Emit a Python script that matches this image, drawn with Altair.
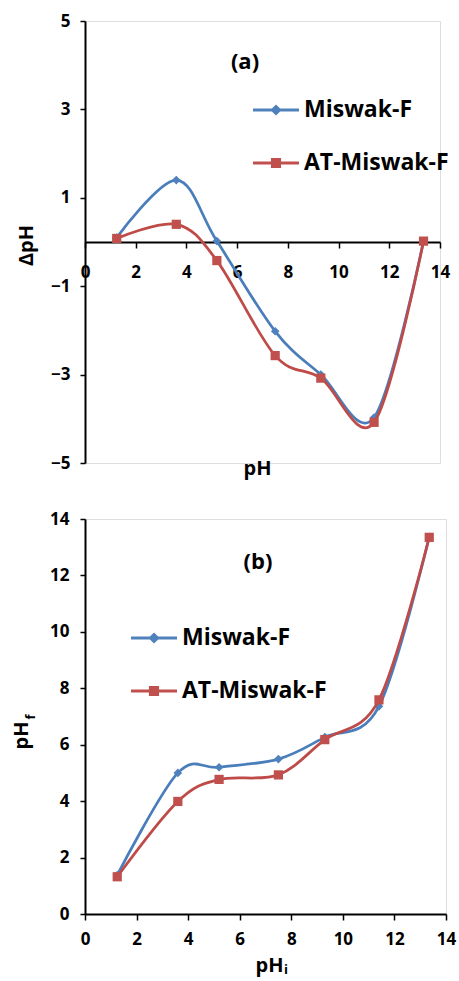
import altair as alt
import pandas as pd

series = ["Miswak-F", "AT-Miswak-F"]
ph_initial = [1.25, 3.6, 5.2, 7.5, 9.3, 11.4, 13.35]
delta_miswak = [0.10, 1.40, 0.02, -2.02, -3.00, -3.97, 0.02]
delta_at = [0.08, 0.40, -0.42, -2.57, -3.08, -4.08, 0.02]
phf_miswak = [1.38, 5.00, 5.20, 5.49, 6.27, 7.36, 13.37]
phf_at = [1.32, 3.99, 4.77, 4.93, 6.18, 7.59, 13.35]
x_ticks = [0, 2, 4, 6, 8, 10, 12, 14]
ya_ticks = [-5, -3, -1, 1, 3, 5]
yb_ticks = [0, 2, 4, 6, 8, 10, 12, 14]

line_colors = ["#4A7EBB", "#BE4B48"]
marker_colors = ["#4F81BD", "#C0504D"]
FONT = "Open Sans"

rows = []
for i, x in enumerate(ph_initial):
    rows.append({"series": series[0], "ph": x, "delta": delta_miswak[i], "phf": phf_miswak[i]})
for i, x in enumerate(ph_initial):
    rows.append({"series": series[1], "ph": x, "delta": delta_at[i], "phf": phf_at[i]})
df = pd.DataFrame(rows)

# legend symbols: a line with its marker in the middle
diamond_legend = ("M-1,-0.06L-0.18,-0.06L0,-0.24L0.18,-0.06L1,-0.06L1,0.06L0.18,0.06"
                  "L0,0.24L-0.18,0.06L-1,0.06Z")
square_legend = ("M-1,-0.06L-0.22,-0.06L-0.22,-0.22L0.22,-0.22L0.22,-0.06L1,-0.06L1,0.06"
                 "L0.22,0.06L0.22,0.22L-0.22,0.22L-0.22,0.06L-1,0.06Z")
LEG_SIZE = 2116


def panel(ycol, ydomain, yticks, x_axis, y_axis, legend_xy, label, label_xy, width, height, extras):
    xs = alt.Scale(domain=[0, 14], nice=False, zero=False)
    ys = alt.Scale(domain=ydomain, nice=False, zero=False)
    base = alt.Chart(df)
    layers = []
    axes = base.mark_point(opacity=0).encode(
        x=alt.X("ph:Q", scale=xs, axis=x_axis),
        y=alt.Y(f"{ycol}:Q", scale=ys, axis=y_axis),
    )
    layers.append(axes)
    shapes = ["diamond", "square"]
    sizes = [75, 85]
    for k, s in enumerate(series):
        sub = base.transform_filter(alt.datum.series == s)
        layers.append(sub.mark_line(interpolate="cardinal", tension=0, strokeWidth=2.75,
                                    color=line_colors[k]).encode(
            x=alt.X("ph:Q", scale=xs), y=alt.Y(f"{ycol}:Q", scale=ys)))
        layers.append(sub.mark_point(shape=shapes[k], filled=True, opacity=1, size=sizes[k],
                                     color=marker_colors[k]).encode(
            x=alt.X("ph:Q", scale=xs), y=alt.Y(f"{ycol}:Q", scale=ys)))
    leg = alt.Legend(orient="none", legendX=legend_xy[0], legendY=legend_xy[1], title=None,
                     labelFont=FONT, labelFontSize=23, labelFontWeight="bold", labelColor="black",
                     symbolSize=LEG_SIZE, symbolStrokeWidth=0, symbolOpacity=1, rowPadding=18,
                     padding=0, labelOffset=5, labelLimit=300)
    legend_layer = base.mark_point(filled=True, opacity=1, size=LEG_SIZE).encode(
        x=alt.X("ph:Q", scale=xs), y=alt.Y(f"{ycol}:Q", scale=ys),
        color=alt.Color("series:N", scale=alt.Scale(domain=series, range=marker_colors), legend=leg),
        shape=alt.Shape("series:N", scale=alt.Scale(domain=series, range=[diamond_legend, square_legend]), legend=leg),
    ).transform_filter("false")
    layers.append(legend_layer)
    lab = alt.Chart(pd.DataFrame({"t": [label]})).mark_text(
        font=FONT, fontSize=22, fontWeight="bold", color="black", align="center", baseline="middle"
    ).encode(text="t:N", x=alt.value(label_xy[0]), y=alt.value(label_xy[1]))
    layers.append(lab)
    layers.extend(extras)
    return alt.layer(*layers).properties(width=width, height=height)


common_axis = dict(domainColor="black", domainWidth=2, tickColor="black", tickWidth=1.5,
                   labelFont=FONT, labelFontWeight="bold", labelColor="black", labelFontSize=17,
                   titleFont=FONT, titleFontWeight="bold", titleColor="black", titleFontSize=20,
                   grid=False)

# Panel (a)
xa = alt.Axis(values=x_ticks, offset=-221, tickSize=6, labelPadding=16, title="pH",
              titleX=172, titleY=232, titleAlign="center", titleBaseline="alphabetic",
              labelFlush=False, **common_axis)
ya = alt.Axis(values=ya_ticks, tickSize=5, labelPadding=10, title="ΔpH",
              titleX=-53, titleY=224, titleAlign="center", titleBaseline="alphabetic",
              titleAngle=270, **common_axis)
chart_a = panel("delta", [-5, 5], ya_ticks, xa, ya, (168, 66), "(a)", (160, 41), 355, 442, [])

# Panel (b)
xb = alt.Axis(values=x_ticks, tickSize=6, labelPadding=11, title="pH",
              titleX=184, titleY=57, titleAlign="center", titleBaseline="alphabetic",
              labelFlush=False, **common_axis)
yb = alt.Axis(values=yb_ticks, tickSize=5, labelPadding=11, title="pH",
              titleX=-58, titleY=216, titleAlign="center", titleBaseline="alphabetic",
              titleAngle=270, **common_axis)
sub_f = alt.Chart(pd.DataFrame({"t": ["f"]})).mark_text(
    font=FONT, fontSize=13, fontWeight="bold", color="black", align="center",
    baseline="alphabetic", angle=270
).encode(text="t:N", x=alt.value(-50), y=alt.value(198))
sub_i = alt.Chart(pd.DataFrame({"t": ["i"]})).mark_text(
    font=FONT, fontSize=13, fontWeight="bold", color="black", align="center",
    baseline="alphabetic"
).encode(text="t:N", x=alt.value(201), y=alt.value(455))
chart_b = panel("phf", [0, 14], yb_ticks, xb, yb, (46, 96), "(b)", (173, 43), 361, 395, [sub_f, sub_i])

chart = alt.vconcat(chart_a, chart_b, spacing=56, bounds="flush").resolve_scale(
    color="independent", shape="independent"
).resolve_legend(color="independent", shape="independent").properties(
    padding={"left": 10, "top": 11, "right": 0, "bottom": 0}
).configure_view(stroke=None).configure(font=FONT, background="white")

chart.save("out.html", embed_options={"renderer": "svg", "actions": False})
